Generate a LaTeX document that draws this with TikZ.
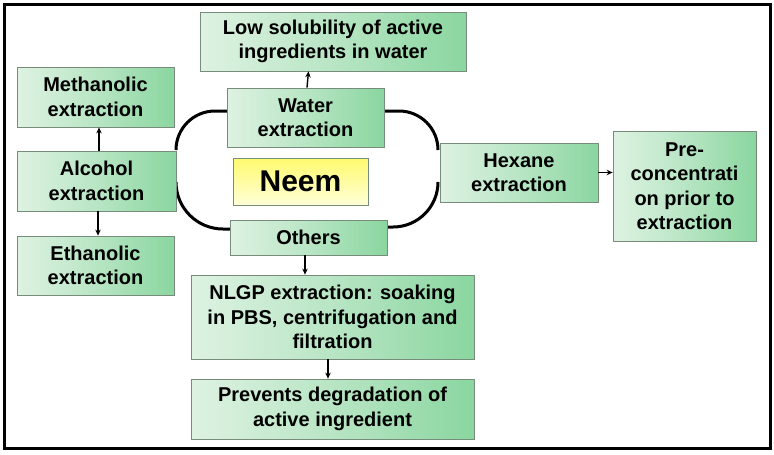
\documentclass[tikz,border=0pt]{standalone}
\usepackage{fontspec}
\setmainfont{Liberation Sans}
\usetikzlibrary{arrows.meta}
\definecolor{gl}{RGB}{222,242,226}
\definecolor{gr}{RGB}{138,214,160}
\definecolor{bd}{RGB}{120,140,124}
\definecolor{yt}{RGB}{255,250,110}
\definecolor{yb}{RGB}{255,255,215}
\tikzset{
  gbox/.style={draw=bd, line width=0.8pt, left color=gl, right color=gr, middle color={gl!55!gr},
    inner sep=0pt, align=center, font=\fontsize{20}{24.5}\selectfont\bfseries},
  ybox/.style={draw=bd, line width=0.8pt, top color=yt, bottom color=yb,
    inner sep=0pt, align=center, font=\fontsize{30}{34}\selectfont\bfseries},
  arr/.style={line width=1.4pt, -{Stealth[length=6pt,width=5.5pt]}},
  bracket/.style={line width=3pt, line cap=butt}
}
\begin{document}
\begin{tikzpicture}[x=1pt,y=-1pt]
\useasboundingbox (0,0) rectangle (774,455);
\fill[white] (0,0) rectangle (774,455);
\draw[line width=3pt] (4.5,4.5) rectangle (770,448);

% brackets (drawn first, boxes on top)
\coordinate (lt) at (228,111);
\coordinate (lb) at (176,182);
\coordinate (rt) at (385,111);
\coordinate (rb) at (438,182);
\draw[bracket] (lt) -- ++(-13,0) arc[start angle=-90, end angle=-180, radius=39];
\draw[bracket] (lb) arc[start angle=180, end angle=90, radius=47] -- ++(7,0);
\draw[bracket] (rt) -- ++(14,0) arc[start angle=-90, end angle=0, radius=39];
\draw[bracket] (rb) arc[start angle=0, end angle=90, radius=45] -- ++(-6,0);

\node[gbox, minimum width=266pt, minimum height=59pt] (low) at (333,41.5) {Low solubility of active\\ingredients in water};
\node[gbox, minimum width=157pt, minimum height=60pt] (meth) at (95.5,97) {Methanolic\\extraction};
\node[gbox, minimum width=157pt, minimum height=59pt] (water) at (305.5,117.5) {Water\\extraction};
\node[ybox, minimum width=135pt, minimum height=47pt] (neem) at (300.5,181.5) {Neem};
\node[gbox, minimum width=159pt, minimum height=60pt] (alc) at (96.5,181) {Alcohol\\extraction};
\node[gbox, minimum width=158pt, minimum height=59pt] (hex) at (519,172.5) {Hexane\\extraction};
\node[gbox, minimum width=143pt, minimum height=110pt] (pre) at (684.5,186) {Pre-\\concentrati\\on prior to\\extraction};
\node[gbox, minimum width=157pt, minimum height=35pt] (oth) at (308.5,237.5) {Others};
\node[gbox, minimum width=157pt, minimum height=59pt] (eth) at (95.5,265.5) {Ethanolic\\extraction};
\node[gbox, minimum width=283pt, minimum height=84pt] (nlgp) at (332.5,317) {NLGP extraction: soaking\\in PBS, centrifugation and\\filtration};
\node[gbox, minimum width=283pt, minimum height=60pt] (prev) at (332.5,409) {Prevents degradation of\\active ingredient};

\draw[arr] ([xshift=1.5pt]water.north) -- ([xshift=-24.5pt]low.south);
\draw[arr] ([xshift=2.5pt]alc.north) -- ([xshift=3.5pt]meth.south);
\draw[arr] ([xshift=1.5pt]alc.south) -- ([xshift=2.5pt]eth.north);
\draw[arr] (hex.east) -- (pre.west |- hex.east);
\draw[arr] ([xshift=-3.5pt]oth.south) -- ([xshift=-27.5pt]nlgp.north);
\draw[arr] ([xshift=-4.5pt]nlgp.south) -- ([xshift=-4.5pt]prev.north);
\end{tikzpicture}
\end{document}
